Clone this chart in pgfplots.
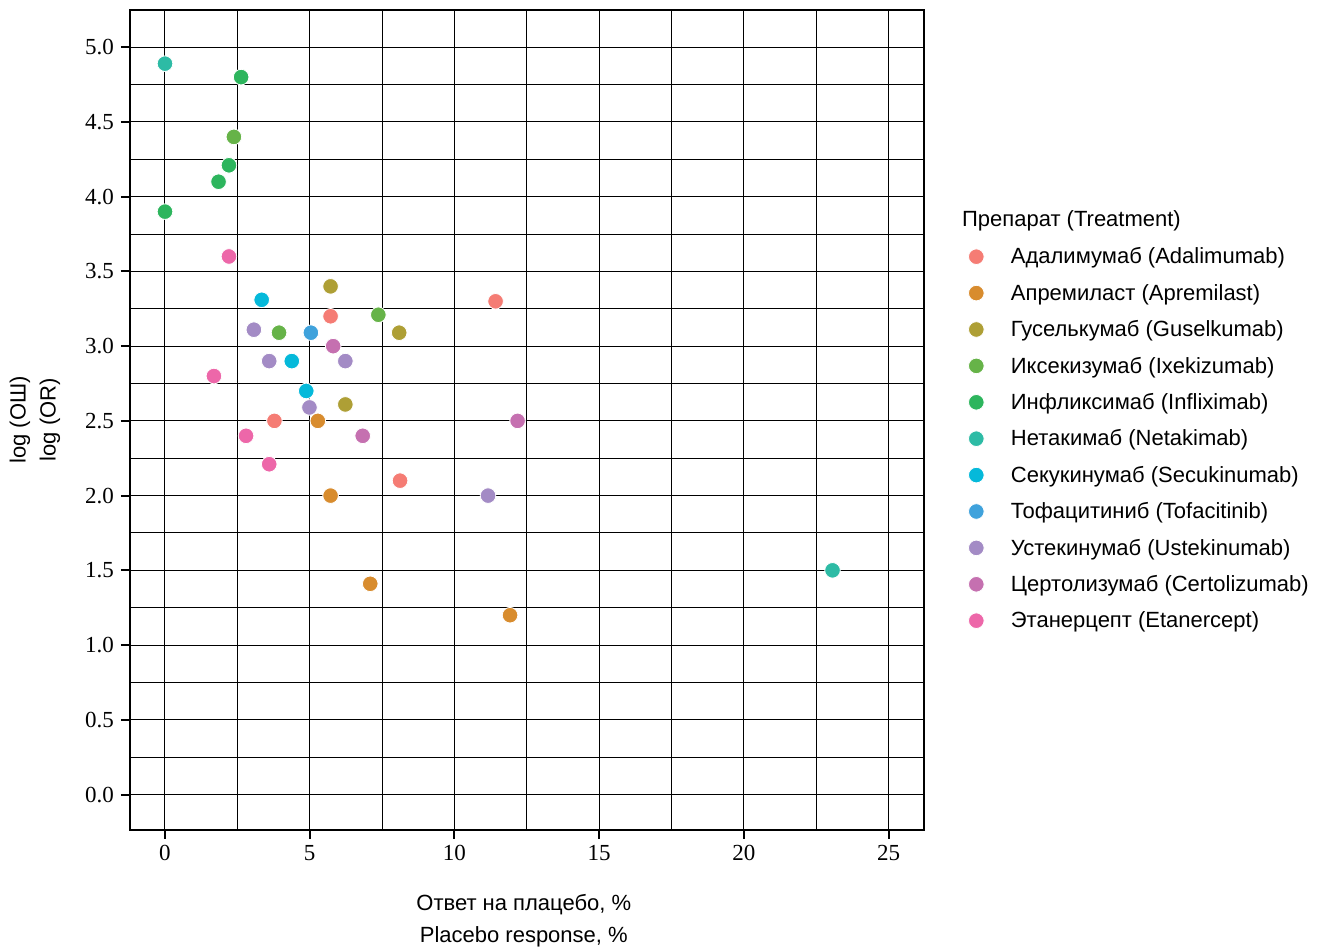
\documentclass[border=0pt]{standalone}
\usepackage{pgfplots}
\pgfplotsset{compat=1.18}
\usepackage{fontspec}
\setmainfont{Liberation Sans}
\newfontfamily\tickfont{Liberation Serif}
\usetikzlibrary{calc}

\definecolor{cAda}{HTML}{F57C74}
\definecolor{cApr}{HTML}{D88C2E}
\definecolor{cGus}{HTML}{AE9F35}
\definecolor{cIxe}{HTML}{66B348}
\definecolor{cInf}{HTML}{2DB55D}
\definecolor{cNet}{HTML}{2DBBA5}
\definecolor{cSec}{HTML}{05B9DA}
\definecolor{cTof}{HTML}{3FA2DC}
\definecolor{cUst}{HTML}{A38BC5}
\definecolor{cCer}{HTML}{C570B0}
\definecolor{cEta}{HTML}{ED67A9}

\pgfplotsset{
  dot/.style={only marks, mark=*, color=#1, mark size=3.9pt,
    mark options={fill=#1, draw=white, line width=0.4pt},
    legend image code/.code={\draw[##1] plot coordinates {(0pt,0pt)};}},
}

\begin{document}
\begin{tikzpicture}
\begin{axis}[
  scale only axis, width=397pt, height=409.75pt,
  xmin=-1.209, xmax=26.22, ymin=-0.234, ymax=5.249,
  xtick={0,5,10,15,20,25},
  ytick={0,0.5,1,1.5,2,2.5,3,3.5,4,4.5,5},
  minor x tick num=1, minor y tick num=1,
  grid=both,
  major grid style={black, line width=0.5pt},
  minor grid style={black, line width=0.5pt},
  axis line style={line width=1pt},
  tick align=outside, tick pos=left,
  major tick length=4.5pt, minor tick length=0pt,
  major tick style={line width=1pt, black},
  tick label style={font=\tickfont\fontsize{11.5}{12}\selectfont},
  /pgf/number format/assume math mode=true,
  yticklabel style={/pgf/number format/.cd, fixed, fixed zerofill, precision=1},
  xlabel={Ответ на плацебо, \%\\Placebo response, \%},
  xlabel style={at={(axis description cs:0.496,-0.1117)}, anchor=center, align=center,
    font=\fontsize{11}{16}\selectfont},
  ylabel={log (ОШ)\\log (OR)},
  ylabel style={at={(axis description cs:-0.1196,0.5)}, anchor=center, align=center,
    font=\fontsize{11}{15}\selectfont},
  legend cell align=left,
  legend style={at={(rel axis cs:1,0.7102)}, anchor=north west, xshift=22.25pt,
    draw=none, fill=none, inner sep=0pt, outer sep=0pt, row sep=9pt,
    font=\fontsize{11}{13}\selectfont,
    nodes={inner sep=0pt, text height=8.2pt, text depth=1pt},
    /tikz/every odd column/.append style={column sep=13.4pt}},
]
\addplot[dot=cAda] coordinates {(5.72,3.20) (11.42,3.30) (3.78,2.50) (8.12,2.10)};
\addlegendentry{Адалимумаб (Adalimumab)}
\addplot[dot=cApr] coordinates {(5.28,2.50) (5.72,2.00) (7.09,1.41) (11.92,1.20)};
\addlegendentry{Апремиласт (Apremilast)}
\addplot[dot=cGus] coordinates {(5.72,3.40) (8.09,3.09) (6.23,2.61)};
\addlegendentry{Гуселькумаб (Guselkumab)}
\addplot[dot=cIxe] coordinates {(2.38,4.40) (3.94,3.09) (7.37,3.21)};
\addlegendentry{Иксекизумаб (Ixekizumab)}
\addplot[dot=cInf] coordinates {(2.63,4.80) (2.21,4.21) (1.85,4.10) (0,3.90)};
\addlegendentry{Инфликсимаб (Infliximab)}
\addplot[dot=cNet] coordinates {(0,4.89) (23.06,1.50)};
\addlegendentry{Нетакимаб (Netakimab)}
\addplot[dot=cSec] coordinates {(3.34,3.31) (4.38,2.90) (4.88,2.70)};
\addlegendentry{Секукинумаб (Secukinumab)}
\addplot[dot=cTof] coordinates {(5.04,3.09)};
\addlegendentry{Тофацитиниб (Tofacitinib)}
\addplot[dot=cUst] coordinates {(3.07,3.11) (3.60,2.90) (6.23,2.90) (4.99,2.59) (11.16,2.00)};
\addlegendentry{Устекинумаб (Ustekinumab)}
\addplot[dot=cCer] coordinates {(5.81,3.00) (12.18,2.50) (6.83,2.40)};
\addlegendentry{Цертолизумаб (Certolizumab)}
\addplot[dot=cEta] coordinates {(2.21,3.60) (1.69,2.80) (2.80,2.40) (3.60,2.21)};
\addlegendentry{Этанерцепт (Etanercept)}
\end{axis}
\node[anchor=base west, inner sep=0pt, font=\fontsize{11}{13}\selectfont]
  at ($(current axis.south east)+(18.85pt,301.4pt)$) {Препарат (Treatment)};
\pgfresetboundingbox
\path[use as bounding box] ($(current axis.south west)+(-65pt,-58.25pt)$) rectangle ($(current axis.north east)+(196.5pt,5pt)$);
\end{tikzpicture}
\end{document}
